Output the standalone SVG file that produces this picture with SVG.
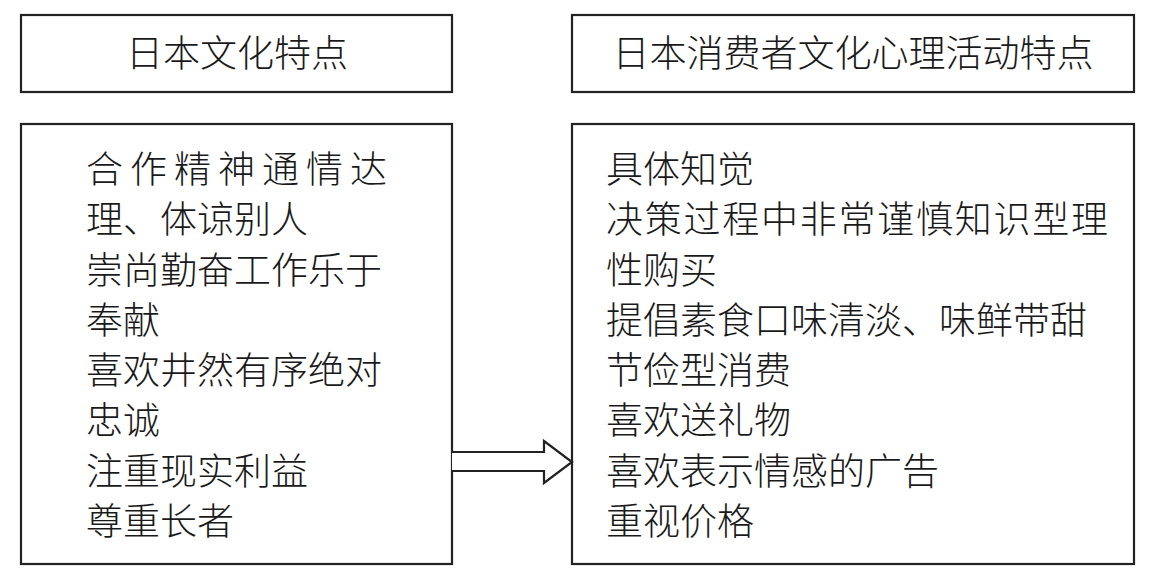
<svg xmlns="http://www.w3.org/2000/svg" width="1155" height="575" viewBox="0 0 1155 575">
<style>
.box{fill:#fff;stroke:#222;stroke-width:2.2}
.t{font-family:"Noto Sans CJK SC","Noto Sans",sans-serif;font-size:37px;font-weight:300;fill:#1a1a1a}
.title{text-anchor:middle}
.conn{fill:#fff;stroke:#222;stroke-width:2.2;stroke-linejoin:miter}
</style>
<rect width="1155" height="575" fill="#fff"/>
<g id="node-culture-title">
<rect class="box" x="21" y="15" width="431" height="77"/>
<text class="t title" x="237" y="67">日本文化特点</text>
</g>
<g id="node-consumer-title">
<rect class="box" x="572" y="15" width="562" height="77"/>
<text class="t title" x="853" y="67">日本消费者文化心理活动特点</text>
</g>
<g id="node-culture-list">
<rect class="box" x="21" y="124" width="431" height="440"/>
<text class="t" x="86" y="183" textLength="301" lengthAdjust="spacing">合作精神通情达</text>
<text class="t" x="86" y="233">理、体谅别人</text>
<text class="t" x="86" y="284">崇尚勤奋工作乐于</text>
<text class="t" x="86" y="334">奉献</text>
<text class="t" x="86" y="384">喜欢井然有序绝对</text>
<text class="t" x="86" y="434">忠诚</text>
<text class="t" x="86" y="485">注重现实利益</text>
<text class="t" x="86" y="535">尊重长者</text>
</g>
<g id="node-consumer-list">
<rect class="box" x="572" y="124" width="562" height="440"/>
<text class="t" x="606" y="183">具体知觉</text>
<text class="t" x="606" y="233" textLength="502" lengthAdjust="spacing">决策过程中非常谨慎知识型理</text>
<text class="t" x="606" y="284">性购买</text>
<text class="t" x="606" y="334">提倡素食口味清淡、味鲜带甜</text>
<text class="t" x="606" y="384">节俭型消费</text>
<text class="t" x="606" y="434">喜欢送礼物</text>
<text class="t" x="606" y="485">喜欢表示情感的广告</text>
<text class="t" x="606" y="535">重视价格</text>
</g>
<g id="connectors">
<polyline class="conn" points="452,452 544,452 544,441 572,462 544,483 544,471 452,471"/>
</g>
</svg>
